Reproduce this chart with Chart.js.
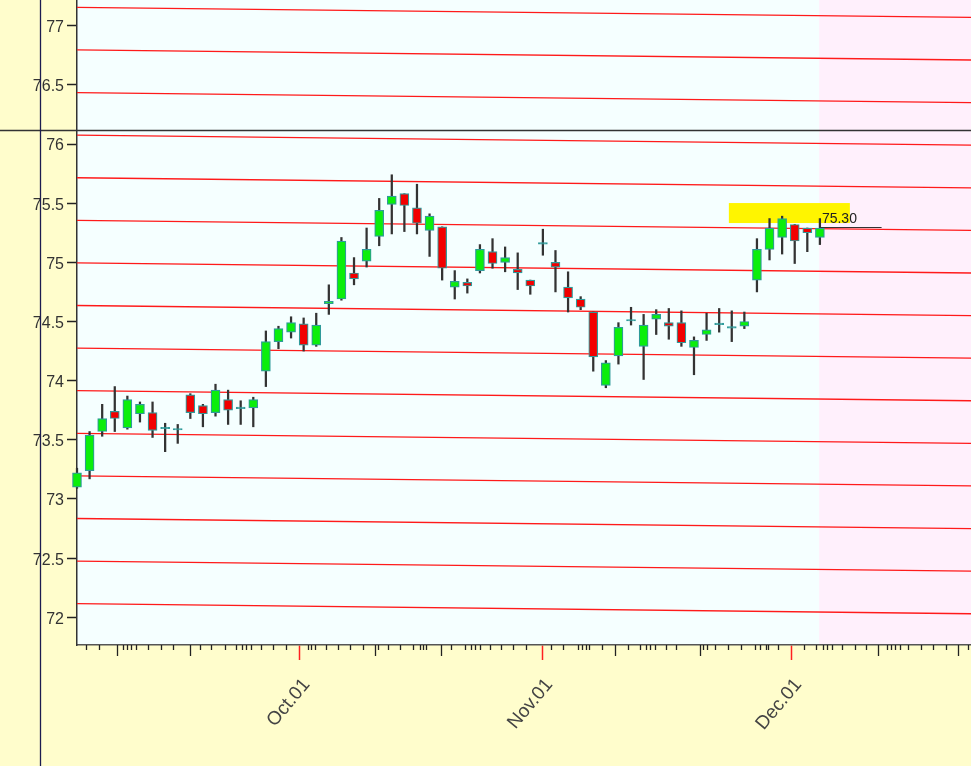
<!DOCTYPE html>
<html><head><meta charset="utf-8">
<script src="https://cdn.jsdelivr.net/npm/chart.js@4.4.0/dist/chart.umd.min.js"></script>
<style>
html,body{margin:0;padding:0;background:#FFFDCC;}
#wrap{width:971px;height:766px;position:relative;}
</style>
</head><body>
<div id="wrap"><canvas id="c"></canvas></div>
<script>
// ---- categories (trading days) ----
const dates = ['09-06','09-07','09-08','09-09','09-13','09-14','09-15','09-16','09-17','09-20','09-21','09-22','09-23','09-24','09-27','09-28','09-29','09-30',
 '10-01','10-04','10-05','10-06','10-07','10-08','10-11','10-12','10-13','10-14','10-18','10-20','10-21','10-22','10-25','10-26','10-27','10-28','10-29',
 '11-01','11-02','11-03','11-08','11-09','11-10','11-11','11-12','11-15','11-16','11-17','11-18','11-22','11-23','11-24','11-25','11-26','11-29','11-30',
 '12-01','12-02','12-03','12-06'];
// ---- OHLC series ----
const openV  = [73.10,73.24,73.57,73.74,73.60,73.72,73.73,73.60,73.59,73.88,73.79,73.73,73.84,73.77,73.77,74.08,74.33,74.41,74.48,74.30,
                74.65,74.69,74.91,75.01,75.22,75.49,75.58,75.46,75.27,75.30,74.79,74.83,74.93,75.09,75.00,74.94,74.85,75.16,75.00,74.79,
                74.69,74.58,73.96,74.21,74.51,74.29,74.52,74.49,74.49,74.28,74.39,74.48,74.45,74.46,74.85,75.11,75.21,75.32,75.29,75.21];
const highV  = [73.26,73.57,73.80,73.95,73.87,73.82,73.82,73.64,73.63,73.89,73.80,73.97,73.92,73.83,73.86,74.42,74.46,74.54,74.53,74.57,
                74.81,75.21,75.04,75.29,75.54,75.74,75.58,75.66,75.41,75.30,74.93,74.86,75.15,75.20,75.13,75.08,74.85,75.28,75.10,74.92,
                74.71,74.58,74.17,74.49,74.62,74.56,74.60,74.61,74.59,74.37,74.57,74.61,74.59,74.58,75.20,75.37,75.39,75.32,75.29,75.37];
const lowV   = [73.09,73.17,73.53,73.57,73.59,73.65,73.52,73.40,73.47,73.68,73.61,73.70,73.63,73.63,73.61,73.95,74.27,74.36,74.25,74.29,
                74.56,74.68,74.81,74.96,75.14,75.24,75.26,75.24,75.05,74.85,74.69,74.74,74.91,74.95,74.92,74.77,74.73,75.06,74.75,74.58,
                74.60,74.08,73.94,74.14,74.47,74.01,74.39,74.35,74.29,74.05,74.34,74.41,74.33,74.44,74.75,75.02,75.07,74.99,75.09,75.15];
const closeV = [73.22,73.54,73.68,73.68,73.84,73.80,73.58,73.60,73.59,73.73,73.72,73.92,73.75,73.77,73.84,74.33,74.44,74.49,74.30,74.47,
                74.67,75.18,74.86,75.11,75.44,75.56,75.48,75.33,75.39,74.95,74.84,74.80,75.11,74.99,75.04,74.91,74.80,75.16,74.96,74.70,
                74.62,74.20,74.15,74.45,74.51,74.47,74.56,74.46,74.32,74.34,74.43,74.47,74.45,74.50,75.11,75.29,75.37,75.18,75.25,75.29];
// ---- parallel trend lines (value at start / end index) ----
const trendFrom = 0, trendTo = 71;
const trendStart = [77.155,76.795,76.435,76.075,75.715,75.355,74.995,74.635,74.275,73.915,73.555,73.195,72.835,72.475,72.115];
const trendEnd   = [77.070,76.710,76.350,75.990,75.630,75.270,74.910,74.550,74.190,73.830,73.470,73.110,72.750,72.390,72.030];
// ---- axes ----
const yTickValues = [72,72.5,73,73.5,74,74.5,75,75.5,76,76.5,77];
const yMin = 71.766, yMax = 77.217;
const xMin = 0, xMax = 71;
const xLabelPos  = [17.68,36.96,56.73];
const xLabelText = ['Oct.01','Nov.01','Dec.01'];
const majorTicks = [3.18,8.95,23.64,28.94,42.70,49.45,63.61,69.96];
const minorTicks = [0.75,1.72,3.65,4.00,4.26,4.72,5.64,6.65,7.62,9.75,10.67,11.73,12.66,13.13,13.45,13.85,14.64,15.56,16.63,
  18.34,18.61,18.88,19.80,20.73,21.66,22.71,23.90,24.70,25.63,26.68,27.21,27.48,27.75,29.73,30.79,31.32,31.58,31.98,32.77,33.70,34.62,35.69,
  37.67,38.59,39.78,40.13,40.40,40.66,41.72,43.75,44.68,45.16,45.47,45.87,46.80,47.60,49.71,50.03,50.64,51.70,52.76,53.82,54.21,54.69,54.87,55.67,
  57.71,58.66,59.24,59.56,59.99,60.78,61.76,62.69,64.35,64.67,64.93,65.33,65.99,67.05,67.97,69.04,70.76];
// ---- annotations ----
const futureStart = 58.94;
const highlightBox = {x0:51.77, x1:61.38, y0:75.332, y1:75.501};
const lastPrice = 75.30, lastPriceText = '75.30', lastPriceFrom = 59, lastPriceTo = 63.9;
const crossX = -2.94, crossY = 76.118;

const GREEN='#0BEE0B', RED='#F20000', TEAL='#2F9A9A', WICK='#333333';

const bodyData=[], bodyColors=[], wickData=[];
for (let i=0;i<openV.length;i++){
  const o=openV[i], c=closeV[i];
  wickData.push({x:i, y:[lowV[i], highV[i]]});
  if (Math.abs(o-c) < 0.012){
    bodyData.push({x:i, y:[o-0.006, o+0.006]}); bodyColors.push(TEAL);
  } else {
    bodyData.push({x:i, y:[o, c]}); bodyColors.push(c>o?GREEN:RED);
  }
}
const datasets=[];
trendStart.forEach((s,k)=>{
  datasets.push({type:'line', data:[{x:trendFrom,y:s},{x:trendTo,y:trendEnd[k]}],
    borderColor:'#FF1A1A', borderWidth:1.3, pointRadius:0, order:3});
});
datasets.push({type:'bar', data:wickData, backgroundColor:WICK, borderWidth:0, barThickness:1.6, grouped:false, order:2, clip:false});
datasets.push({type:'bar', data:bodyData, backgroundColor:bodyColors, borderColor:TEAL, borderWidth:1.2, borderSkipped:false,
  barThickness:9, grouped:false, order:1, clip:false});

const bgPlugin = {
  id:'bg',
  beforeDraw(chart){
    const {ctx, chartArea:a, scales:{x}} = chart;
    ctx.save();
    ctx.fillStyle='#FFFDCC'; ctx.fillRect(0,0,chart.width,chart.height);
    ctx.fillStyle='#F5FFFF'; ctx.fillRect(a.left,a.top,a.right-a.left,a.bottom-a.top);
    const fx = x.getPixelForValue(futureStart);
    ctx.fillStyle='#FFF0FC'; ctx.fillRect(fx,a.top,a.right-fx,a.bottom-a.top);
    ctx.restore();
  },
  beforeDatasetsDraw(chart){
    const {ctx, scales:{x,y}} = chart;
    ctx.save();
    const x0=x.getPixelForValue(highlightBox.x0), x1=x.getPixelForValue(highlightBox.x1);
    const y0=y.getPixelForValue(highlightBox.y1), y1=y.getPixelForValue(highlightBox.y0);
    ctx.fillStyle='#FFF500'; ctx.fillRect(x0,y0,x1-x0,y1-y0);
    ctx.restore();
  },
  afterDatasetsDraw(chart){
    const {ctx, scales:{x,y}} = chart;
    ctx.save();
    const py = Math.round(y.getPixelForValue(lastPrice))+0.5;
    ctx.strokeStyle='#333'; ctx.lineWidth=1;
    ctx.beginPath(); ctx.moveTo(x.getPixelForValue(lastPriceFrom),py); ctx.lineTo(x.getPixelForValue(lastPriceTo),py); ctx.stroke();
    ctx.fillStyle='#222'; ctx.font="14px 'Liberation Sans', Arial, sans-serif"; ctx.textBaseline='alphabetic'; ctx.textAlign='left';
    ctx.fillText(lastPriceText, x.getPixelForValue(lastPriceFrom)+2, py-4.5);
    ctx.restore();
  },
  afterDraw(chart){
    const {ctx, chartArea:a, scales:{x,y}} = chart;
    ctx.save();
    ctx.strokeStyle='#222'; ctx.lineWidth=1.3;
    minorTicks.forEach(v=>{const px=Math.round(x.getPixelForValue(v))+0.5; ctx.beginPath(); ctx.moveTo(px,a.bottom); ctx.lineTo(px,a.bottom+5); ctx.stroke();});
    majorTicks.forEach(v=>{const px=Math.round(x.getPixelForValue(v))+0.5; ctx.beginPath(); ctx.moveTo(px,a.bottom); ctx.lineTo(px,a.bottom+11); ctx.stroke();});
    // crosshair
    const cy = Math.round(y.getPixelForValue(crossY))+0.5;
    ctx.strokeStyle='#333'; ctx.lineWidth=1.5;
    ctx.beginPath(); ctx.moveTo(0,cy); ctx.lineTo(chart.width,cy); ctx.stroke();
    const cx = Math.round(x.getPixelForValue(crossX))+0.5;
    ctx.strokeStyle='#1C1C50'; ctx.lineWidth=1.3;
    ctx.beginPath(); ctx.moveTo(cx,0); ctx.lineTo(cx,chart.height); ctx.stroke();
    ctx.restore();
  }
};

Chart.defaults.font.family = "'Liberation Sans', Arial, sans-serif";
new Chart(document.getElementById('c'), {
  type:'bar',
  data:{labels:dates, datasets},
  options:{
    responsive:true, maintainAspectRatio:false, animation:false,
    layout:{padding:0},
    plugins:{legend:{display:false}, tooltip:{enabled:false}},
    scales:{
      x:{type:'linear', min:xMin, max:xMax, offset:false,
        afterBuildTicks:s=>{s.ticks = xLabelPos.map(v=>({value:v}));},
        afterFit:s=>{s.height=121; s.paddingLeft=0; s.paddingRight=0;},
        ticks:{autoSkip:false, minRotation:50, maxRotation:50, padding:14, labelOffset:7, color:'#444', font:{size:19},
          callback:(v,i)=>xLabelText[i]},
        grid:{drawOnChartArea:false, drawTicks:true, tickLength:15, tickColor:'#FF2020', tickWidth:1.5, offset:false},
        border:{display:true, color:'#555', width:1.5}
      },
      y:{type:'linear', position:'left', min:yMin, max:yMax,
        afterBuildTicks:s=>{s.ticks = yTickValues.map(v=>({value:v}));},
        afterFit:s=>{s.width=77; s.paddingTop=0; s.paddingBottom=0;},
        ticks:{padding:3, labelOffset:2, color:'#333', font:{size:16}, callback:v=>String(v)},
        grid:{drawOnChartArea:false, drawTicks:true, tickLength:10, tickColor:'#222', tickWidth:1.5},
        border:{display:true, color:'#333', width:1.5}
      }
    }
  },
  plugins:[bgPlugin]
});
</script>
</body></html>
